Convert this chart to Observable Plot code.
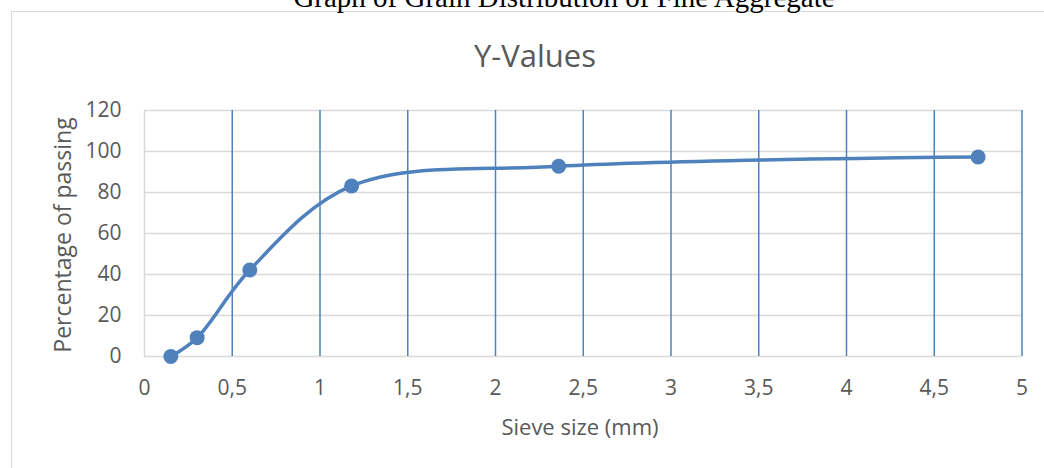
<!DOCTYPE html>
<html>
<head>
<meta charset="utf-8">
<script src="https://cdn.jsdelivr.net/npm/d3@7"></script>
<script src="https://cdn.jsdelivr.net/npm/@observablehq/plot@0.6"></script>
<style>
  html, body { margin: 0; padding: 0; background: #fff; }
  #wrap { position: relative; width: 1044px; height: 468px; overflow: hidden; }
  #frame { position: absolute; left: 11px; top: 11px; width: 1100px; height: 600px; border: 1.5px solid #d9d9d9; box-sizing: border-box; }
  #chart { position: absolute; left: 0; top: 0; }
  #overlay { position: absolute; left: 0; top: 0; pointer-events: none; }
</style>
</head>
<body>
<div id="wrap">
  <div id="frame"></div>
  <div id="chart"></div>
  <svg id="overlay" width="1044" height="468"></svg>
</div>
<script>
const pageTitle = "Graph of Grain Distribution of Fine Aggregate";
const chartTitle = "Y-Values";
const xLabel = "Sieve size (mm)";
const yLabel = "Percentage of passing";

const sieveSize = [0.15, 0.3, 0.6, 1.18, 2.36, 4.75];
const passing = [0, 9.2, 42.2, 83.2, 92.8, 97.3];

const xTicks = [0, 0.5, 1, 1.5, 2, 2.5, 3, 3.5, 4, 4.5, 5];
const yTicks = [0, 20, 40, 60, 80, 100, 120];

const data = sieveSize.map((s, i) => ({size: s, pass: passing[i]}));

const blue = "#4f81bd";
const gridBlue = "#4f81bd";
const grey = "#d9d9d9";
const txt = "#595959";

const chart = Plot.plot({
  width: 1044,
  height: 468,
  marginLeft: 144,
  marginRight: 22.5,
  marginTop: 110,
  marginBottom: 112,
  style: {fontFamily: "'Open Sans', sans-serif", color: txt, background: "transparent", overflow: "visible"},
  x: {domain: [0, 5]},
  y: {domain: [0, 120]},
  marks: [
    Plot.ruleY(yTicks, {stroke: grey, strokeWidth: 1.5}),
    Plot.ruleX([0], {stroke: grey, strokeWidth: 1.5}),
    Plot.ruleX(xTicks.filter(d => d > 0), {stroke: gridBlue, strokeWidth: 1.5}),
    Plot.axisX({ticks: xTicks, tickSize: 0, tickPadding: 24, fontSize: 21, label: null,
      tickFormat: d => String(d).replace(".", ",")}),
    Plot.axisY({ticks: yTicks, tickSize: 0, tickPadding: 23, fontSize: 21, label: null}),
    Plot.line(data, {x: "size", y: "pass", curve: "catmull-rom", stroke: blue, strokeWidth: 3.5}),
    Plot.dot(data, {x: "size", y: "pass", r: 7.5, fill: blue, stroke: "none"})
  ]
});
document.getElementById("chart").appendChild(chart);

const ov = d3.select("#overlay");
ov.append("text").attr("x", 564).attr("y", 7).attr("text-anchor", "middle")
  .attr("font-family", "'Liberation Serif', 'Times New Roman', serif").attr("font-size", 29)
  .attr("fill", "#000").text(pageTitle);
ov.append("text").attr("x", 535).attr("y", 67).attr("text-anchor", "middle")
  .attr("font-family", "'Open Sans', sans-serif").attr("font-size", 31)
  .attr("fill", txt).text(chartTitle);
ov.append("text").attr("x", 580).attr("y", 435).attr("text-anchor", "middle")
  .attr("font-family", "'Open Sans', sans-serif").attr("font-size", 22)
  .attr("fill", txt).text(xLabel);
ov.append("text").attr("transform", "translate(71,235) rotate(-90)").attr("text-anchor", "middle")
  .attr("font-family", "'Open Sans', sans-serif").attr("font-size", 23)
  .attr("fill", txt).text(yLabel);
</script>
</body>
</html>
